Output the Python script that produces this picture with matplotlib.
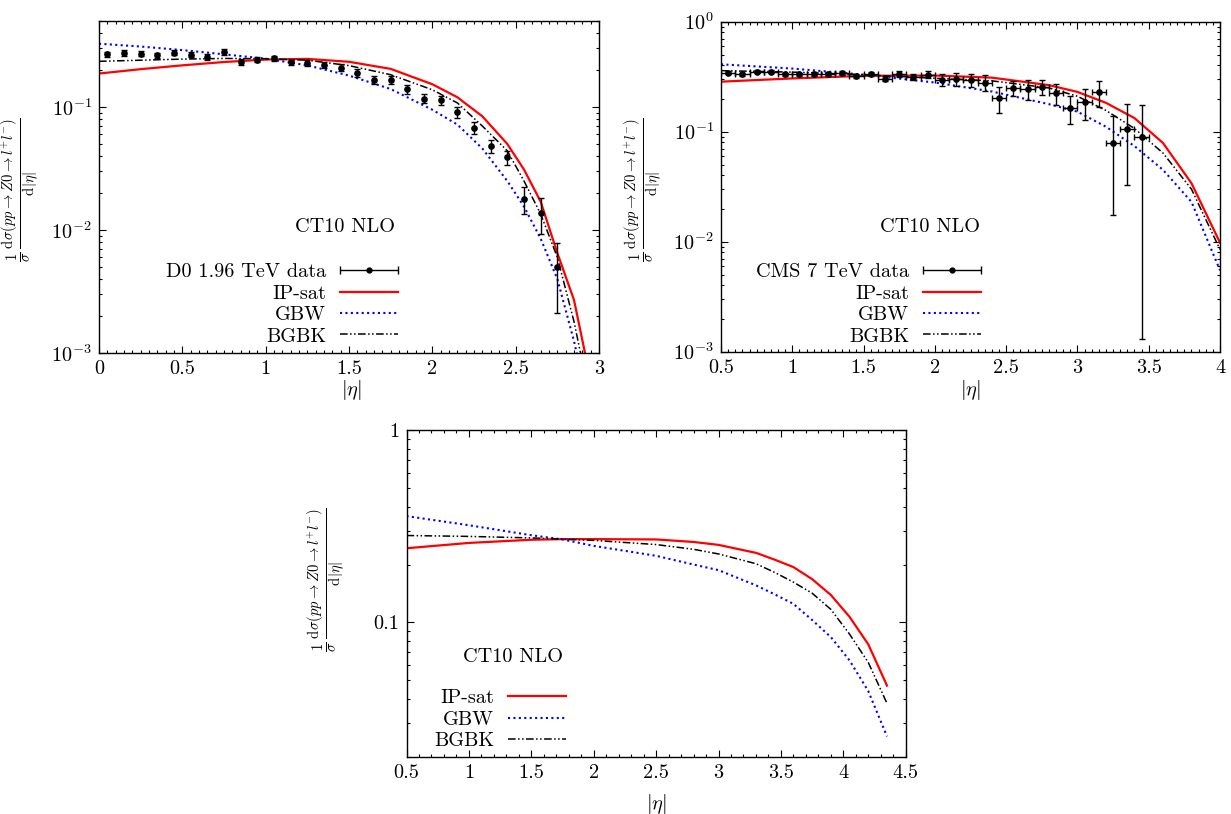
import numpy as np
import matplotlib
matplotlib.use("Agg")
import matplotlib.pyplot as plt
from matplotlib.ticker import FixedLocator, MultipleLocator, NullFormatter, FixedFormatter
from matplotlib.legend_handler import HandlerErrorbar

plt.rcParams['font.family'] = ['cmr10', 'DejaVu Serif']
plt.rcParams['mathtext.fontset'] = 'cm'
plt.rcParams['axes.unicode_minus'] = False
plt.rcParams['axes.formatter.use_mathtext'] = True

# ---------------- data ----------------
# D0 1.96 TeV
d0_eta = [0.05, 0.15, 0.25, 0.35, 0.45, 0.55, 0.65, 0.75, 0.85, 0.95, 1.05, 1.15, 1.25, 1.35,
          1.45, 1.55, 1.65, 1.75, 1.85, 1.95, 2.05, 2.15, 2.25, 2.35, 2.45, 2.55, 2.65, 2.75]
d0_val = [0.268, 0.275, 0.272, 0.263, 0.277, 0.267, 0.257, 0.280, 0.232, 0.243, 0.250, 0.231, 0.228, 0.221,
          0.209, 0.189, 0.167, 0.165, 0.139, 0.117, 0.113, 0.091, 0.068, 0.048, 0.039, 0.018, 0.0137, 0.005]
d0_err = [0.014, 0.014, 0.014, 0.014, 0.014, 0.014, 0.014, 0.014, 0.012, 0.012, 0.012, 0.012, 0.012, 0.012,
          0.014, 0.013, 0.012, 0.012, 0.011, 0.010, 0.010, 0.009, 0.008, 0.006, 0.005, 0.0044, 0.0045, 0.0029]

# D0 theory curves
tl_eta = [0.0, 0.25, 0.5, 0.75, 1.0, 1.25, 1.5, 1.75, 2.0, 2.15, 2.3, 2.45, 2.55, 2.65, 2.75, 2.85, 2.95]
tl_ipsat = [0.187, 0.203, 0.218, 0.232, 0.243, 0.246, 0.233, 0.204, 0.153, 0.120, 0.084, 0.050, 0.031, 0.017, 0.0065, 0.0027, 0.0006]
tl_gbw = [0.327, 0.310, 0.290, 0.268, 0.247, 0.218, 0.180, 0.140, 0.095, 0.072, 0.046, 0.025, 0.0155, 0.0085, 0.004, 0.00125, 0.0003]
tl_bgbk = [0.235, 0.240, 0.245, 0.248, 0.247, 0.240, 0.217, 0.183, 0.138, 0.108, 0.070, 0.044, 0.025, 0.0135, 0.006, 0.0018, 0.0004]

# CMS 7 TeV
cms_eta = [0.55, 0.65, 0.75, 0.85, 0.95, 1.05, 1.15, 1.25, 1.35, 1.45, 1.55, 1.65, 1.75, 1.85, 1.95,
           2.05, 2.15, 2.25, 2.35, 2.45, 2.55, 2.65, 2.75, 2.85, 2.95, 3.05, 3.15, 3.25, 3.35, 3.45]
cms_val = [0.344, 0.332, 0.351, 0.351, 0.332, 0.332, 0.334, 0.334, 0.344, 0.323, 0.333, 0.303, 0.337, 0.316, 0.331,
           0.297, 0.300, 0.293, 0.279, 0.201, 0.251, 0.243, 0.256, 0.224, 0.165, 0.185, 0.228, 0.0785, 0.106, 0.089]
cms_err = [0.012, 0.012, 0.012, 0.012, 0.012, 0.012, 0.012, 0.012, 0.013, 0.014, 0.015, 0.016, 0.02, 0.02, 0.025,
           0.035, 0.04, 0.04, 0.047, 0.054, 0.038, 0.05, 0.04, 0.048, 0.048, 0.058, 0.062, 0.061, 0.073, 0.0877]
cms_xerr = 0.05

# CMS theory curves
tr_eta = [0.5, 1.0, 1.5, 2.0, 2.4, 2.8, 3.0, 3.2, 3.4, 3.6, 3.8, 4.0]
tr_ipsat = [0.285, 0.305, 0.322, 0.324, 0.310, 0.265, 0.230, 0.183, 0.133, 0.079, 0.034, 0.0098]
tr_gbw = [0.410, 0.375, 0.330, 0.280, 0.232, 0.178, 0.152, 0.111, 0.074, 0.045, 0.023, 0.0055]
tr_bgbk = [0.359, 0.348, 0.330, 0.306, 0.290, 0.250, 0.210, 0.156, 0.107, 0.064, 0.030, 0.0085]

# LHC prediction curves
b_eta = [0.5, 1.0, 1.5, 1.75, 2.0, 2.5, 2.8, 3.0, 3.3, 3.45, 3.6, 3.75, 3.9, 4.05, 4.2, 4.35]
b_ipsat = [0.243, 0.259, 0.269, 0.271, 0.271, 0.270, 0.262, 0.253, 0.230, 0.212, 0.194, 0.168, 0.139, 0.107, 0.077, 0.047]
b_gbw = [0.357, 0.320, 0.284, 0.270, 0.250, 0.222, 0.200, 0.187, 0.156, 0.140, 0.125, 0.103, 0.084, 0.0635, 0.044, 0.0256]
b_bgbk = [0.283, 0.280, 0.275, 0.271, 0.267, 0.254, 0.240, 0.227, 0.202, 0.182, 0.162, 0.142, 0.117, 0.087, 0.062, 0.038]

W, H = 1231, 814
fig = plt.figure(figsize=(W / 100, H / 100), dpi=100)


def rect(l, t, r, b):
    return [l / W, 1 - b / H, (r - l) / W, (b - t) / H]


FS = 14.6
RED = '#ff0000'
BLUE = '#0000ff'
BGBK_LS = (0, (5, 1.6, 1, 1.6, 1, 1.6))
ylab = r'$\frac{1}{\sigma}\,\frac{\mathrm{d}\sigma(pp\to Z0\to l^{+}l^{-})}{\mathrm{d}|\eta|}$'


def style(ax, xmaj, xmin_step, ymajor, ylabels, yminor):
    ax.set_yscale('log')
    ax.xaxis.set_major_locator(FixedLocator(xmaj))
    ax.set_xticklabels([('%g' % v) for v in xmaj], fontsize=FS)
    ax.xaxis.set_minor_locator(MultipleLocator(xmin_step))
    ax.yaxis.set_major_locator(FixedLocator(ymajor))
    ax.yaxis.set_major_formatter(FixedFormatter(ylabels))
    ax.yaxis.set_minor_locator(FixedLocator(yminor))
    ax.yaxis.set_minor_formatter(NullFormatter())
    ax.tick_params(which='both', direction='in', top=True, right=True, labelsize=FS, width=0.8)
    ax.tick_params(which='major', length=5, pad=5)
    ax.tick_params(which='minor', length=2.5)
    for s in ax.spines.values():
        s.set_linewidth(1.0)


def minors(lo_dec, hi_dec):
    out = []
    for d in range(lo_dec, hi_dec):
        for k in range(2, 10):
            out.append(k * 10.0 ** d)
    return out


def curves(ax, x, ip, gb, bg):
    ax.plot(x, ip, color=RED, lw=1.6, label='IP-sat')
    ax.plot(x, gb, color=BLUE, lw=1.5, linestyle=(0, (1, 1.6)), label='GBW')
    ax.plot(x, bg, color='black', lw=1.1, linestyle=BGBK_LS, label='BGBK')


def px_to_ax(ax, px, py):
    return ax.transAxes.inverted().transform(fig.transFigure.transform((px / W, 1 - py / H)))


HL = 2.85
LEGKW = dict(frameon=False, markerfirst=False, fontsize=FS, borderpad=0, borderaxespad=0,
             handlelength=HL, handletextpad=0.7, labelspacing=0.16, numpoints=1)


def add_legend(ax, dummy, handles, labels, right_px, top_px):
    return ax.legend([dummy] + handles, labels, loc='upper right',
                     bbox_to_anchor=(right_px / W, 1 - top_px / H), bbox_transform=fig.transFigure,
                     handler_map={type(dummy): HandlerErrorbar(xerr_size=HL / 2)}, **LEGKW)


# ---------------- top-left ----------------
ax1 = fig.add_axes(rect(99, 21, 599, 353))
curves(ax1, tl_eta, tl_ipsat, tl_gbw, tl_bgbk)
ax1.errorbar(d0_eta, d0_val, yerr=d0_err, fmt='o', color='black', ms=3.8, elinewidth=1.0, capsize=2.3, capthick=1.0)
dummy1 = ax1.errorbar([np.nan], [np.nan], xerr=[1], fmt='o', color='black', ms=3.5, elinewidth=1.0, capsize=3, capthick=1.0)
ax1.set_xlim(0, 3)
ax1.set_ylim(1e-3, 0.5)
style(ax1, [0, 0.5, 1, 1.5, 2, 2.5, 3], 0.05, [1e-3, 1e-2, 1e-1],
      [r'$10^{-3}$', r'$10^{-2}$', r'$10^{-1}$'], minors(-3, 0))
h, l = ax1.get_legend_handles_labels()
add_legend(ax1, dummy1, h[:3], ['D0 1.96 TeV data', 'IP-sat', 'GBW', 'BGBK'], 398, 263)
p = px_to_ax(ax1, 395, 227)
ax1.text(p[0], p[1], 'CT10 NLO', ha='right', va='center', fontsize=FS, transform=ax1.transAxes)

# ---------------- top-right ----------------
ax2 = fig.add_axes(rect(721, 21.7, 1220, 351.7))
curves(ax2, tr_eta, tr_ipsat, tr_gbw, tr_bgbk)
ax2.errorbar(cms_eta, cms_val, yerr=cms_err, xerr=cms_xerr, fmt='o', color='black', ms=3.8,
             elinewidth=1.0, capsize=2.3, capthick=1.0)
dummy2 = ax2.errorbar([np.nan], [np.nan], xerr=[1], fmt='o', color='black', ms=3.5, elinewidth=1.0, capsize=3, capthick=1.0)
ax2.set_xlim(0.5, 4)
ax2.set_ylim(1e-3, 1)
style(ax2, [0.5, 1, 1.5, 2, 2.5, 3, 3.5, 4], 0.05, [1e-3, 1e-2, 1e-1, 1],
      [r'$10^{-3}$', r'$10^{-2}$', r'$10^{-1}$', r'$10^{0}$'], minors(-3, 0))
h, l = ax2.get_legend_handles_labels()
add_legend(ax2, dummy2, h[:3], ['CMS 7 TeV data', 'IP-sat', 'GBW', 'BGBK'], 981, 263)
p = px_to_ax(ax2, 980, 227)
ax2.text(p[0], p[1], 'CT10 NLO', ha='right', va='center', fontsize=FS, transform=ax2.transAxes)

# ---------------- bottom ----------------
ax3 = fig.add_axes(rect(406.5, 430, 905.7, 757))
curves(ax3, b_eta, b_ipsat, b_gbw, b_bgbk)
ax3.set_xlim(0.5, 4.5)
ax3.set_ylim(0.02, 1)
style(ax3, [0.5, 1, 1.5, 2, 2.5, 3, 3.5, 4, 4.5], 0.1, [0.1, 1], ['0.1', '1'], minors(-2, 0))
h, l = ax3.get_legend_handles_labels()
ax3.legend(h[:3], ['IP-sat', 'GBW', 'BGBK'], loc='upper right', bbox_to_anchor=(566 / W, 1 - 689 / H),
           bbox_transform=fig.transFigure, **LEGKW)
p = px_to_ax(ax3, 563, 657)
ax3.text(p[0], p[1], 'CT10 NLO', ha='right', va='center', fontsize=FS, transform=ax3.transAxes)

# axis labels
for (x, y) in [(20, 190), (643, 190), (326, 580)]:
    fig.text(x / W, 1 - y / H, ylab, rotation=90, ha='center', va='center', fontsize=15)
for (x, y) in [(351, 390), (970, 390), (656, 804)]:
    fig.text(x / W, 1 - y / H, r'$|\eta|$', ha='center', va='center', fontsize=FS)

fig.savefig('out.png', dpi=100)
